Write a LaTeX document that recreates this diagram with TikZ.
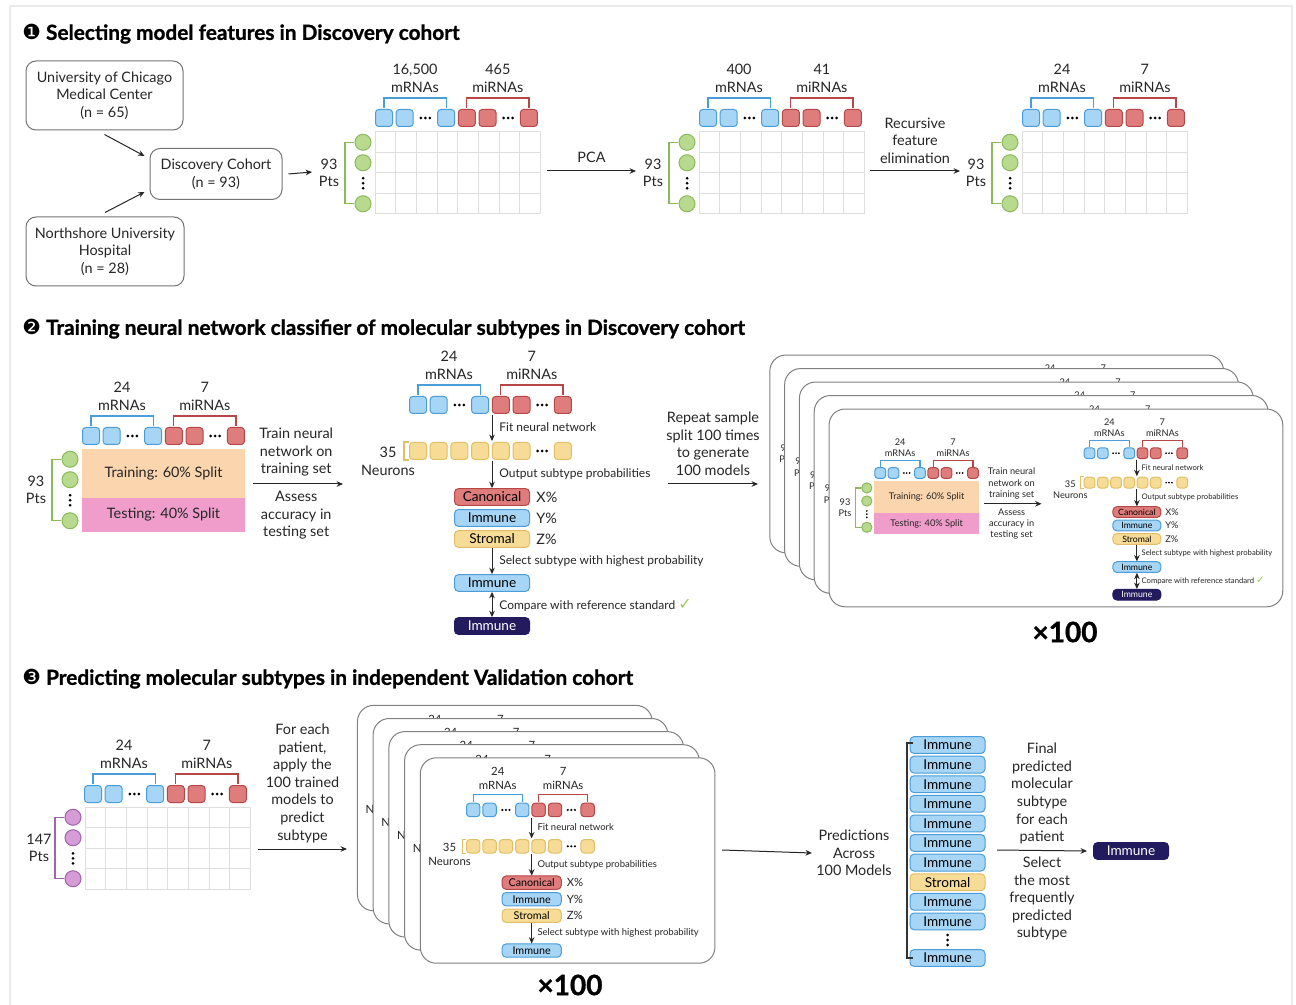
\documentclass[tikz,border=0pt]{standalone}
\usepackage{fontspec}
\setmainfont{Lato}
\newfontfamily\symfont{DejaVu Sans}
\newfontfamily\heavyfont{Lato}[FakeBold=1]
\usetikzlibrary{arrows.meta, positioning, calc}

\definecolor{mrnafill}{HTML}{A6D5F5}
\definecolor{mrnaline}{HTML}{4A9DD8}
\definecolor{mirnafill}{HTML}{DF7D7D}
\definecolor{mirnaline}{HTML}{B74646}
\definecolor{neurfill}{HTML}{F6DC96}
\definecolor{neurline}{HTML}{E2BF66}
\definecolor{greenfill}{HTML}{B8DA8F}
\definecolor{greenline}{HTML}{8BBA5C}
\definecolor{purplefill}{HTML}{D59CD8}
\definecolor{purpleline}{HTML}{A263AA}
\definecolor{navy}{HTML}{221C5E}
\definecolor{trainfill}{HTML}{FAD5AE}
\definecolor{testfill}{HTML}{F09DCB}
\definecolor{checkgreen}{HTML}{9CCB5A}

\tikzset{
    feat/.style = {rectangle, rounded corners=1.6pt, minimum size=8.5pt, inner sep=0pt, line width=0.5pt},
    mrnabox/.style = {feat, fill=mrnafill, draw=mrnaline},
    mirnabox/.style = {feat, fill=mirnafill, draw=mirnaline},
    neuron/.style = {feat, fill=neurfill, draw=neurline},
    lbl/.style = {font=\fontsize{7.2}{8.8}\selectfont, align=center, inner sep=0pt, text=black!85},
    note/.style = {font=\fontsize{6}{7}\selectfont, anchor=west, inner sep=0pt, text=black!85},
    subtype/.style = {rectangle, rounded corners=2pt, minimum width=37.5pt, minimum height=8.4pt, inner sep=0pt, line width=0.5pt, font=\fontsize{6.8}{7}\selectfont},
    canonical/.style = {subtype, fill=mirnafill, draw=mirnaline},
    immune/.style = {subtype, fill=mrnafill, draw=mrnaline},
    stromal/.style = {subtype, fill=neurfill, draw=neurline},
    refstd/.style = {subtype, fill=navy, draw=navy, text=white},
    site/.style = {rectangle, rounded corners=5pt, draw=black!55, line width=0.5pt, align=center, inner sep=0pt, font=\fontsize{7.2}{8.8}\selectfont, text=black!85},
    split/.style = {rectangle, minimum width=81.5pt, inner sep=0pt, font=\fontsize{7.2}{8}\selectfont, text=black!85},
    gridline/.style = {draw=black!13, line width=0.5pt},
    arr/.style = {-{Stealth[length=3.2pt,width=2.8pt]}, line width=0.5pt, black!85},
    dblarr/.style = {{Stealth[length=3.2pt,width=2.8pt]}-{Stealth[length=3.2pt,width=2.8pt]}, line width=0.5pt, black!85},
    card/.style = {draw=black!50, line width=0.5pt, fill=white, rounded corners=8pt},
    sect/.style = {font=\fontsize{10.4}{12}\selectfont\heavyfont\bfseries, anchor=west, inner sep=0pt},
    times/.style = {font=\fontsize{14}{16}\selectfont\heavyfont\bfseries, inner sep=0pt}
}

\newcommand\pitch{20.7}

% row of feature boxes: first box x, box y, mRNA count, miRNA count
\newcommand\FeatRow[4]{%
  \begin{scope}[shift={(#1,#2)}]
    \foreach \i in {0,1,3} \node[mrnabox] (mrna\i) at (\i*\pitch,0) {};
    \foreach \i in {4,5,7} \node[mirnabox] (mirna\i) at (\i*\pitch,0) {};
    \foreach \i in {2,6} \foreach \d in {-4.5,0,4.5} \fill (\i*\pitch+\d,0) circle (1.5);
    \draw[mrnaline, line width=0.6pt] (0,-10) -- (0,-20) -- (3*\pitch,-20) -- (3*\pitch,-10);
    \draw[mirnaline, line width=0.6pt] (4*\pitch,-10) -- (4*\pitch,-20) -- (7*\pitch,-20) -- (7*\pitch,-10);
    \node[lbl] (nmrna) at (1.5*\pitch,-39.5) {#3\\mRNAs};
    \node[lbl] (nmirna) at (5.5*\pitch,-39.5) {#4\\miRNAs};
  \end{scope}}

% column of patients beside a table: left, top, count, colour
\newcommand\PtCol[4]{%
  \begin{scope}[shift={(#1,#2)}]
    \foreach \j in {0,1,3}
      \node[circle, minimum size=8pt, inner sep=0pt, line width=0.5pt, fill=#4fill, draw=#4line] (pt\j) at (-12,10.25+\j*20.5) {};
    \foreach \d in {-5,0,5} \fill (-12,51.25+\d) circle (1.5);
    \draw[#4line, line width=0.6pt] (-21,10.25) -- (-30,10.25) -- (-30,71.75) -- (-21,71.75);
    \node[lbl] (npts) at (-46,41) {#3\\Pts};
  \end{scope}}

\newcommand\PtGrid[4]{%
  \PtCol{#1}{#2}{#3}{#4}
  \begin{scope}[shift={(#1,#2)}]
    \foreach \i in {0,...,8} \draw[gridline] (\i*\pitch,0) -- (\i*\pitch,82);
    \foreach \j in {0,...,4} \draw[gridline] (0,\j*20.5) -- (8*\pitch,\j*20.5);
  \end{scope}}

% training / testing split
\newcommand\SplitPart{%
  \FeatRow{91}{436}{24}{7}
  \node[split, fill=trainfill, minimum height=24.5pt] (train) at (163.5,473.5) {Training: 60\% Split};
  \node[split, fill=testfill, minimum height=17pt] (test) at (163.5,515) {Testing: 40\% Split};
  \PtCol{82}{449}{93}{green}
  \coordinate (trainA) at (253,484);
  \coordinate (trainB) at (343,484);
  \draw[arr] (trainA) -- (trainB);
  \node[lbl, above=3.5pt] at ($(trainA)!0.48!(trainB)$) {Train neural\\network on\\training set};
  \node[lbl, below=3.5pt] at ($(trainA)!0.48!(trainB)$) {Assess\\accuracy in\\testing set};}

% neural network and subtype call (#1=1 adds the comparison)
\newcommand\NNPart[1]{%
  \FeatRow{418}{405}{24}{7}
  \node[lbl] (nneur) at (388,461.5) {35\\Neurons};
  \foreach \i in {0,...,5} \node[neuron] (neur\i) at (418+\i*\pitch,451) {};
  \foreach \d in {-4.5,0,4.5} \fill (418+6*\pitch+\d,451) circle (1.5);
  \node[neuron] (neur7) at (418+7*\pitch,451) {};
  \draw[neurline, line width=0.6pt] (409,442) -- (404,442) -- (404,460) -- (409,460);
  \coordinate (fitA) at (492,415);
  \coordinate (fitB) at (492,441);
  \draw[arr] (fitA) -- (fitB);
  \node[note] at (499,427) {Fit neural network};
  \node[canonical] (canon) at (492,497) {Canonical};
  \node[immune] (imm) at (492,518) {Immune};
  \node[stromal] (strom) at (492,539) {Stromal};
  \node[lbl, anchor=west] (px) at (536,497) {X\%};
  \node[lbl, anchor=west] (py) at (536,518) {Y\%};
  \node[lbl, anchor=west] (pz) at (536,539) {Z\%};
  \coordinate (outA) at (492,461);
  \draw[arr] (outA) -- (canon.north);
  \node[note] at (499,474) {Output subtype probabilities};
  \node[immune] (sel) at (492,583) {Immune};
  \draw[arr] (strom.south) -- (sel.north);
  \node[note] at (499,561) {Select subtype with highest probability};
  \ifnum#1=1
    \node[refstd] (ref) at (492,626) {Immune};
    \draw[dblarr] (sel.south) -- (ref.north);
    \node[note] at (499,605) {Compare with reference standard {\symfont\fontsize{8}{8}\selectfont\color{checkgreen}✓}};
  \fi}

\begin{document}
\begin{tikzpicture}[x=0.5pt, y=-0.5pt]
\useasboundingbox (0,0) rectangle (1296,1005);
\fill[white] (0,0) rectangle (1296,1005);
\draw[black!8, line width=0.6pt] (10,6) rectangle (1292,1020);

% 1: selecting model features
\node[sect] (title1) at (22,34) {{\symfont\mdseries ❶} Selecting model features in Discovery cohort};
\node[site, minimum width=78.5pt, minimum height=34.5pt] (uchic) at (104.5,95.5) {University of Chicago\\Medical Center\\(n = 65)};
\node[site, minimum width=79pt, minimum height=34.5pt] (nshore) at (105,251.5) {Northshore University\\Hospital\\(n = 28)};
\node[site, minimum width=66pt, minimum height=25.5pt] (disc) at (216,174) {Discovery Cohort\\(n = 93)};
\draw[arr] ([yshift=-2pt]uchic.south) -- ([shift={(-5,8)}]disc.north west);
\draw[arr] ([yshift=2pt]nshore.north) -- ([shift={(-5,-8)}]disc.south west);
\coordinate (m1in) at (312,172);
\draw[arr] ([xshift=3pt]disc.east) -- (m1in);

\FeatRow{384}{118}{16,500}{465}
\PtGrid{375}{132}{93}{green}
\coordinate (pcaA) at (547,171);
\coordinate (pcaB) at (636,171);
\draw[arr] (pcaA) -- node[lbl, above=4pt] {PCA} (pcaB);

\FeatRow{708}{118}{400}{41}
\PtGrid{699}{132}{93}{green}
\coordinate (rfeA) at (870,171);
\coordinate (rfeB) at (960,171);
\draw[arr] (rfeA) -- node[lbl, above=3.5pt] {Recursive\\feature\\elimination} (rfeB);

\FeatRow{1031}{118}{24}{7}
\PtGrid{1022}{132}{93}{green}

% 2: training the classifier
\node[sect] (title2) at (22,329) {{\symfont\mdseries ❷} Training neural network classifier of molecular subtypes in Discovery cohort};
\SplitPart
\NNPart{1}
\coordinate (repA) at (668,484);
\coordinate (repB) at (758,484);
\draw[arr] (repA) -- node[lbl, above=4pt] {Repeat sample\\split 100 times\\to generate\\100 models} (repB);

% stacked copies: only the slivers of the back ones show
\foreach \k in {4,3,2,1} {
  \begin{scope}[shift={({822-14.8*\k},{194-13.5*\k})}, scale=0.64, transform shape]
    \path[card] (11,336) rectangle (720,645);
    \node[lbl] (bpts\k) at (36,490) {93\\Pts};
    \node[lbl] (bcnt\k) at (449,357) {24};
    \node[lbl] (bmir\k) at (532,357) {7};
  \end{scope}
}
\begin{scope}[shift={(822,194)}, scale=0.64, transform shape]
  \path[card] (11,336) rectangle (720,645);
  \SplitPart
  \NNPart{1}
\end{scope}
\node[times] (rep2) at (1065,632) {×100};

% 3: predicting in the validation cohort
\node[sect] (title3) at (22,679) {{\symfont\mdseries ❸} Predicting molecular subtypes in independent Validation cohort};
\FeatRow{93}{794}{24}{7}
\PtGrid{85}{807}{147}{purple}
\coordinate (applyA) at (258,849);
\coordinate (applyB) at (347,849);
\draw[arr] (applyA) -- node[lbl, above=3pt] {For each\\patient,\\apply the\\100 trained\\models to\\predict\\subtype} (applyB);

\foreach \k in {4,3,2,1} {
  \begin{scope}[shift={({143-15.7*\k},{490-13.1*\k})}, scale=0.79, transform shape]
    \path[card] (351,339) rectangle (724,599);
    \node[lbl, anchor=west] (bneur\k) at (361,470.5) {N};
    \node[lbl] (bcnt\k) at (449,357) {24};
    \node[lbl] (bmir\k) at (532,357) {7};
  \end{scope}
}
\begin{scope}[shift={(143,490)}, scale=0.79, transform shape]
  \path[card] (351,339) rectangle (724,599);
  \NNPart{0}
\end{scope}
\node[times] (rep3) at (570,985) {×100};

\coordinate (predA) at (722,850);
\node[lbl] (predlbl) at (854,853) {Predictions\\Across\\100 Models};
\draw[arr] (predA) -- ([xshift=-2pt]predlbl.west);

\foreach \i in {0,...,9} {
  \ifnum\i=7
    \node[stromal] (pred\i) at (947.5,745+\i*19.6) {Stromal};
  \else
    \node[immune] (pred\i) at (947.5,745+\i*19.6) {Immune};
  \fi
}
\foreach \d in {-5,0,5} \fill (947.5,940+\d) circle (1.5);
\node[immune] (pred10) at (947.5,958) {Immune};
\draw[black!80, line width=0.6pt] (913,743) -- (907,743) -- (907,958) -- (913,958);

\node[refstd] (final) at (1131,851) {Immune};
\coordinate (finA) at (997,850);
\draw[arr] (finA) -- ([xshift=-3pt]final.west);
\node[lbl, above=3pt] at ($(finA)!0.5!([xshift=-3pt]final.west)$) {Final\\predicted\\molecular\\subtype\\for each\\patient};
\node[lbl, below=3pt] at ($(finA)!0.5!([xshift=-3pt]final.west)$) {Select\\the most\\frequently\\predicted\\subtype};
\end{tikzpicture}
\end{document}
